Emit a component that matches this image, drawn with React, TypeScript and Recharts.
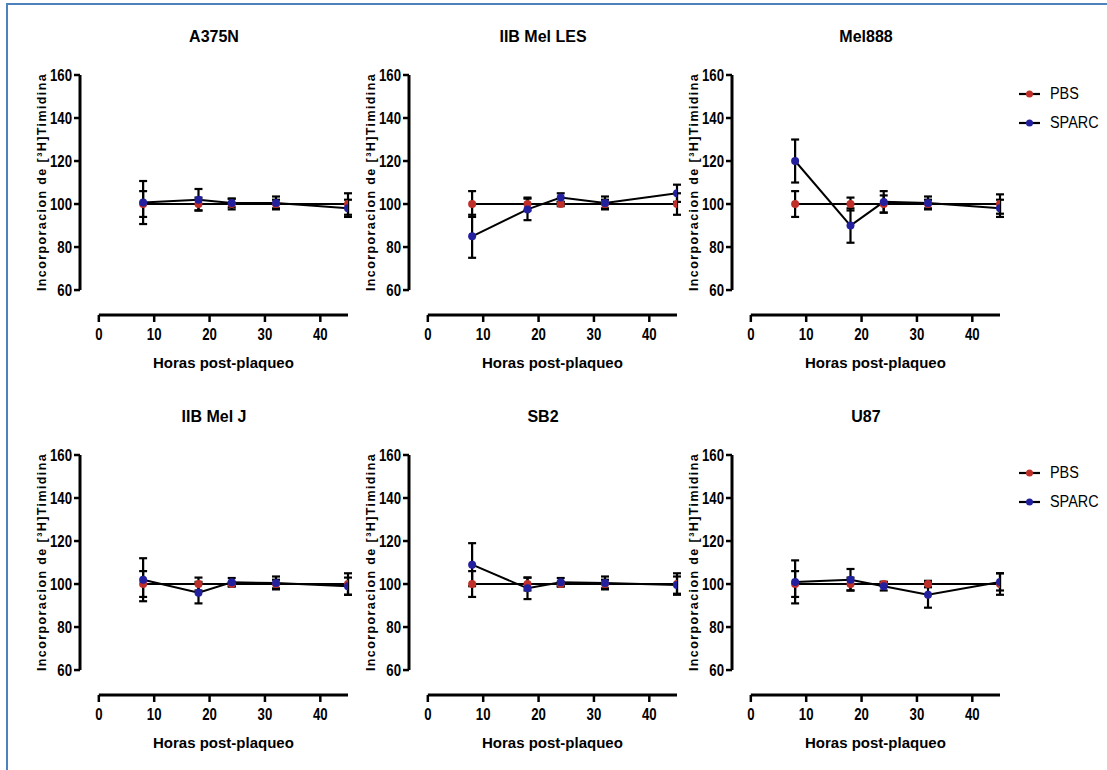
import React from "react";
import { ErrorBar, Label, Line, LineChart, ReferenceLine, XAxis, YAxis } from "recharts";

const hours = [8, 18, 24, 32, 45];
const xTicks = [0, 10, 20, 30, 40];
const yTicks = [60, 80, 100, 120, 140, 160];
const seriesNames = ["PBS", "SPARC"];

const a375nPbs = [100, 100, 100, 100, 100];
const a375nPbsErr = [6, 3, 2.5, 2, 5];
const a375nSparc = [100.7, 102, 100.5, 100.5, 98];
const a375nSparcErr = [10, 5, 2, 3, 4];

const melLesPbs = [100, 100, 100, 100, 100];
const melLesPbsErr = [6, 3, 1, 2, 5];
const melLesSparc = [85, 97.5, 103, 100.5, 105];
const melLesSparcErr = [10, 5, 2, 3, 4];

const mel888Pbs = [100, 100, 100, 100, 100];
const mel888PbsErr = [6, 3, 4, 2, 4.5];
const mel888Sparc = [120, 90, 101, 100.5, 98];
const mel888SparcErr = [10, 8, 5, 3, 4];

const melJPbs = [100, 100, 100, 100, 100];
const melJPbsErr = [6, 3, 1, 2, 5];
const melJSparc = [102, 96, 100.8, 100.5, 99];
const melJSparcErr = [10, 5, 2, 3, 4];

const sb2Pbs = [100, 100, 100, 100, 100];
const sb2PbsErr = [6, 3, 1, 2, 5];
const sb2Sparc = [109, 98, 100.8, 100.5, 99.5];
const sb2SparcErr = [10, 5, 2, 3, 4];

const u87Pbs = [100, 100, 100, 100, 100];
const u87PbsErr = [6, 3, 1, 1.5, 5];
const u87Sparc = [101, 102, 99, 95, 101];
const u87SparcErr = [10, 5, 2, 6, 4];

const PBS_COLOR = "#c0302a";
const SPARC_COLOR = "#23209e";
const FONT = "'Liberation Sans', Arial, sans-serif";

const X_MIN = -3.4;
const Y_MIN = 48.4;

function buildRows(pbs: number[], pbsErr: number[], sparc: number[], sparcErr: number[]) {
  return hours.map((t, i) => ({
    t,
    pbs: pbs[i],
    pbsErr: pbsErr[i],
    sparc: sparc[i],
    sparcErr: sparcErr[i]
  }));
}

const panels = [
  { title: "A375N", rows: buildRows(a375nPbs, a375nPbsErr, a375nSparc, a375nSparcErr), axisX: 80, plotTop: 75, legend: false },
  { title: "IIB Mel LES", rows: buildRows(melLesPbs, melLesPbsErr, melLesSparc, melLesSparcErr), axisX: 409, plotTop: 75, legend: false },
  { title: "Mel888", rows: buildRows(mel888Pbs, mel888PbsErr, mel888Sparc, mel888SparcErr), axisX: 732, plotTop: 75, legend: true },
  { title: "IIB Mel J", rows: buildRows(melJPbs, melJPbsErr, melJSparc, melJSparcErr), axisX: 80, plotTop: 454.5, legend: false },
  { title: "SB2", rows: buildRows(sb2Pbs, sb2PbsErr, sb2Sparc, sb2SparcErr), axisX: 409, plotTop: 454.5, legend: false },
  { title: "U87", rows: buildRows(u87Pbs, u87PbsErr, u87Sparc, u87SparcErr), axisX: 732, plotTop: 454.5, legend: true }
];

// narrow bold digits like the original (Arial Narrow look)
const CondensedTick = (props: any) => {
  const { x, y, payload, textAnchor, vertical } = props;
  return (
    <g transform={`translate(${x} ${y}) scale(0.8 1)`}>
      <text
        x={0}
        y={0}
        dy={vertical ? "0.36em" : "0.71em"}
        textAnchor={textAnchor}
        fontSize={16.5}
        fontWeight="bold"
        fontFamily={FONT}
        fill="#000"
      >
        {payload.value}
      </text>
    </g>
  );
};

const xTick = (props: any) => <CondensedTick {...props} vertical={false} />;
const yTick = (props: any) => <CondensedTick {...props} vertical={true} />;

const xTitle = () => (
  <text x={223.4} y={307} textAnchor="middle" dominantBaseline="central" fontSize={15} fontWeight="bold" fontFamily={FONT} fill="#000">
    Horas post-plaqueo
  </text>
);

const yTitle = () => (
  <text
    x={42}
    y={127}
    transform="rotate(-90 42 127)"
    textAnchor="middle"
    dominantBaseline="central"
    fontSize={12.5}
    fontWeight="bold"
    letterSpacing={1.4}
    fontFamily={FONT}
    fill="#000"
  >
    Incorporacion de [³H]Timidina
  </text>
);

function Panel({ panel }: { panel: (typeof panels)[number] }) {
  return (
    <>
      <div
        style={{
          position: "absolute",
          left: panel.axisX,
          top: panel.plotTop - 48,
          width: 268,
          lineHeight: "20px",
          textAlign: "center",
          fontFamily: FONT,
          fontWeight: "bold",
          fontSize: 16
        }}
      >
        {panel.title}
      </div>
      <div style={{ position: "absolute", left: panel.axisX - 80, top: panel.plotTop - 20 }}>
        <LineChart width={368} height={330} data={panel.rows} margin={{ top: 20, right: 20, left: 35, bottom: 10 }}>
          <XAxis
            type="number"
            dataKey="t"
            domain={[X_MIN, 45]}
            ticks={xTicks}
            interval={0}
            allowDataOverflow
            axisLine={false}
            tickLine={{ stroke: "#000", strokeWidth: 2.5 }}
            tickSize={7}
            tickMargin={6}
            height={60}
            tick={xTick}
          >
            <Label content={xTitle} />
          </XAxis>
          <YAxis
            type="number"
            domain={[Y_MIN, 160]}
            ticks={yTicks}
            interval={0}
            allowDataOverflow
            axisLine={false}
            tickLine={{ stroke: "#000", strokeWidth: 2.5 }}
            tickSize={6}
            tickMargin={2}
            width={45}
            tick={yTick}
          >
            <Label content={yTitle} />
          </YAxis>
          <ReferenceLine segment={[{ x: X_MIN, y: 60 }, { x: X_MIN, y: 160 }]} stroke="#000" strokeWidth={3} />
          <ReferenceLine segment={[{ x: 0, y: Y_MIN }, { x: 45, y: Y_MIN }]} stroke="#000" strokeWidth={3} />
          <Line
            type="linear"
            dataKey="pbs"
            name={seriesNames[0]}
            stroke="#000"
            strokeWidth={2}
            dot={{ r: 4, fill: PBS_COLOR, stroke: PBS_COLOR, strokeWidth: 0 }}
            activeDot={false}
            isAnimationActive={false}
          >
            <ErrorBar dataKey="pbsErr" direction="y" width={4} stroke="#000" strokeWidth={2.2} />
          </Line>
          <Line
            type="linear"
            dataKey="sparc"
            name={seriesNames[1]}
            stroke="#000"
            strokeWidth={2}
            dot={{ r: 4, fill: SPARC_COLOR, stroke: SPARC_COLOR, strokeWidth: 0 }}
            activeDot={false}
            isAnimationActive={false}
          >
            <ErrorBar dataKey="sparcErr" direction="y" width={4} stroke="#000" strokeWidth={2.2} />
          </Line>
        </LineChart>
      </div>
      {panel.legend && (
        <div style={{ position: "absolute", left: 1018, top: panel.plotTop + 4 }}>
          {seriesNames.map((name, i) => (
            <div key={name} style={{ display: "flex", alignItems: "center", height: 29 }}>
              <svg width={26} height={12} style={{ marginRight: 6 }}>
                <line x1={1} y1={6} x2={22} y2={6} stroke="#000" strokeWidth={2.2} />
                <circle cx={11.5} cy={6} r={3.5} fill={i === 0 ? PBS_COLOR : SPARC_COLOR} />
              </svg>
              <span style={{ fontFamily: FONT, fontSize: 16, color: "#000", display: "inline-block", transform: "scaleX(0.9)", transformOrigin: "left center" }}>
                {name}
              </span>
            </div>
          ))}
        </div>
      )}
    </>
  );
}

export default function App() {
  return (
    <div style={{ position: "absolute", left: 0, top: 0, width: 1107, height: 770, overflow: "hidden", background: "#fff" }}>
      <div
        style={{
          position: "absolute",
          left: 6,
          top: 3,
          width: 1120,
          height: 790,
          borderLeft: "2.5px solid #4f81bd",
          borderTop: "2.5px solid #4f81bd"
        }}
      />
      {panels.map((p) => (
        <Panel key={p.title} panel={p} />
      ))}
    </div>
  );
}
